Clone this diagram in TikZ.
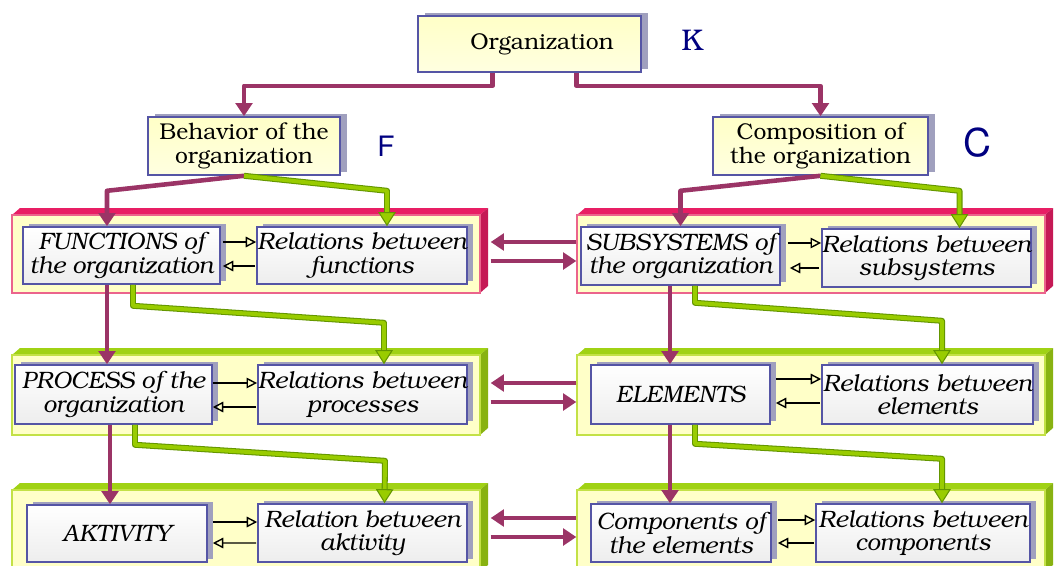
\documentclass[tikz,border=0pt]{standalone}
\usepackage[T1]{fontenc}
\usepackage{bookman}
\usetikzlibrary{arrows.meta,calc,fit,shadows}

\definecolor{plum}{RGB}{155,52,102}
\definecolor{leaf}{RGB}{153,204,0}
\definecolor{leafdark}{RGB}{100,150,0}
\definecolor{boxblue}{RGB}{85,85,165}
\definecolor{bevel}{RGB}{160,160,190}
\definecolor{cream}{RGB}{255,255,200}
\definecolor{navyk}{RGB}{0,0,128}
\definecolor{rimred}{RGB}{232,30,100}
\definecolor{edgered}{RGB}{235,100,140}
\definecolor{rimgreen}{RGB}{160,210,20}
\definecolor{edgegreen}{RGB}{195,225,70}

% name, left, top, right, bottom, rim, edge
\newcommand{\slab}[7]
{   \fill[#6] (#2,#3) -- ++(8,-7) -- (#4+8,#3-7) -- (#4,#3) -- cycle;
    \fill[#6!85!black] (#4,#3) -- (#4+8,#3-7) -- (#4+8,#5-7) -- (#4,#5) -- cycle;
    \node[slabface, draw=#7, fit={(#2,#3) (#4,#5)}] (#1) {};
}

\begin{document}
\begin{tikzpicture}[x=0.02cm,y=-0.02cm,
  slabface/.style={fill=cream, line width=0.8pt, inner sep=0pt},
  topbox/.style={draw=boxblue, line width=0.9pt, top color=yellow!22, bottom color=yellow!12!white,
    general shadow={fill=bevel, shadow xshift=4pt, shadow yshift=1.5pt},
    align=center, inner sep=0pt, font=\fontsize{13}{13.5}\selectfont},
  cell/.style={draw=boxblue, line width=0.9pt, top color=white, bottom color=gray!14,
    general shadow={fill=bevel, shadow xshift=3.5pt, shadow yshift=1.5pt},
    align=center, inner sep=0pt, minimum height=1.14cm, font=\fontsize{13.5}{13.5}\selectfont\itshape},
  plumarr/.style={draw=plum, line width=2.6pt, line join=round, -{Triangle[width=9.5pt,length=7.5pt]}},
  leafarr/.style={draw=leafdark, double=leaf, double distance=2.2pt, line width=0.6pt, line join=round,
    -{Triangle[width=10pt,length=8pt,fill=leaf]}},
  tinyarr/.style={draw=black, line width=0.8pt, -{Triangle[open, width=6pt, length=6pt]}},
  tag/.style={text=navyk, inner sep=0pt}]

\useasboundingbox (0,0) rectangle (1054,565);
\clip (0,0) rectangle (1054,565);

 \slab{p1L}{12}{215}{480}{293}{rimred}{edgered}
 \slab{p1R}{577}{215}{1045}{293}{rimred}{edgered}
 \slab{p2L}{12}{355}{480}{435}{rimgreen}{edgegreen}
 \slab{p2R}{577}{355}{1045}{435}{rimgreen}{edgegreen}
 \slab{p3L}{12}{490}{480}{572}{rimgreen}{edgegreen}
 \slab{p3R}{577}{490}{1045}{572}{rimgreen}{edgegreen}

 \node[topbox, minimum width=4.46cm, minimum height=1.12cm] (org) at (529.5,44) {\hspace*{0.5cm}Organization};
 \node[topbox, minimum width=3.84cm, minimum height=1.16cm] (beh) at (244,146) {Behavior of the\\organization};
 \node[topbox, minimum width=4.3cm, minimum height=1.16cm] (comp) at (820.5,146) {Composition of\\the organization};

 \node[tag, font=\fontsize{17}{18}\selectfont] (lk) at (692,40) {K};
 \node[tag, font=\fontsize{16}{18}\fontfamily{phv}\selectfont] (lf) at (386,146) {F};
 \node[tag, font=\fontsize{22}{24}\fontfamily{phv}\selectfont] (lc) at (977,143) {C};

 \node[cell, minimum width=3.94cm] (fun) at (121.5,255.5) {FUNCTIONS of\\the organization};
 \node[cell, minimum width=4.2cm] (relfun) at (362,255.5) {Relations between\\functions};
 \node[cell, minimum width=3.98cm, minimum height=1.16cm] (sub) at (680.5,256) {SUBSYSTEMS of\\the organization};
 \node[cell, minimum width=4.14cm, minimum height=1.16cm] (relsub) at (926.5,258) {Relations between\\subsystems};

 \node[cell, minimum width=3.94cm, minimum height=1.18cm] (proc) at (113.5,394.5) {PROCESS of the\\organization};
 \node[cell, minimum width=4.18cm, minimum height=1.18cm] (relproc) at (362.5,394.5) {Relations between\\processes};
 \node[cell, minimum width=3.58cm, minimum height=1.18cm] (elem) at (680.5,394.5) {ELEMENTS};
 \node[cell, minimum width=4.22cm, minimum height=1.18cm] (relelem) at (927.5,394.5) {Relations between\\elements};

 \node[cell, minimum width=3.6cm] (akt) at (117,533.5) {AKTIVITY};
 \node[cell, minimum width=4.18cm, minimum height=1.16cm] (relakt) at (362.5,533) {Relation between\\aktivity};
 \node[cell, minimum width=3.6cm, minimum height=1.16cm] (compel) at (681,533) {Components of\\the elements};
 \node[cell, minimum width=4.28cm, minimum height=1.16cm] (relcomp) at (923,533) {Relations between\\components};

 \draw[plumarr] ($(org.south)+(-37,0)$) -- ++(0,13) -| (beh.north);
 \draw[plumarr] ($(org.south)+(47,0)$) -- ++(0,13) -| (comp.north);

 \draw[plumarr] (beh.south) -- ++(-137,15) -- ($(fun.north)+(-14.5,0)$);
 \draw[leafarr] (beh.south) -- ++(143,15) -- ($(relfun.north)+(25,0)$);
 \draw[plumarr] (comp.south) -- ++(-140,15) -- (sub.north);
 \draw[leafarr] (comp.south) -- ++(139,15) -- ($(relsub.north)+(33,0)$);

 \draw[plumarr] ($(fun.south)+(-14.5,0)$) -- ($(proc.north)+(-6.5,0)$);
 \draw[leafarr] ($(fun.south)+(11.5,0)$) -- ++(0,21) -- ++(251,17) -- ($(relproc.north)+(21.5,0)$);
 \draw[plumarr] ($(proc.south)+(-3.5,0)$) -- ($(akt.north)+(-7,0)$);
 \draw[leafarr] ($(proc.south)+(21.5,0)$) -- ++(0,20) -- ++(250,16) -- ($(relakt.north)+(22,0)$);

 \draw[plumarr] ($(sub.south)+(-10.5,0)$) -- ($(elem.north)+(-10.5,0)$);
 \draw[leafarr] ($(sub.south)+(14.5,0)$) -- ++(0,17) -- ++(247,18) -- ($(relelem.north)+(14.5,0)$);
 \draw[plumarr] ($(elem.south)+(-10.5,0)$) -- ($(compel.north)+(-11,0)$);
 \draw[leafarr] ($(elem.south)+(14.5,0)$) -- ++(0,19) -- ++(247,15) -- ($(relcomp.north)+(19,0)$);

 \draw[plumarr] ($(p1R.west)+(0,-12)$) -- ($(p1L.east)+(10,-12)$);
 \draw[plumarr] ($(p1L.east)+(10,7)$) -- ($(p1R.west)+(0,7)$);
 \draw[plumarr] ($(p2R.west)+(0,-12)$) -- ($(p2L.east)+(10,-12)$);
 \draw[plumarr] ($(p2L.east)+(10,7)$) -- ($(p2R.west)+(0,7)$);
 \draw[plumarr] ($(p3R.west)+(0,-13)$) -- ($(p3L.east)+(10,-13)$);
 \draw[plumarr] ($(p3L.east)+(10,6)$) -- ($(p3R.west)+(0,6)$);

 \draw[tinyarr] ($(fun.east)+(2,-13.5)$) -- ($(relfun.west)+(0,-13.5)$);
 \draw[tinyarr] ($(relfun.west)+(-1,10.5)$) -- ($(fun.east)+(2,10.5)$);
 \draw[tinyarr] ($(sub.east)+(7,-13)$) -- ($(relsub.west)+(0,-15)$);
 \draw[tinyarr] ($(relsub.west)+(-2,10)$) -- ($(sub.east)+(9,12)$);
 \draw[tinyarr] ($(proc.east)+(0,-11.5)$) -- ($(relproc.west)+(0,-11.5)$);
 \draw[tinyarr] ($(relproc.west)+(-1,12.5)$) -- ($(proc.east)+(0,12.5)$);
 \draw[tinyarr] ($(elem.east)+(5,-15.5)$) -- ($(relelem.west)+(0,-15.5)$);
 \draw[tinyarr] ($(relelem.west)+(-1,8.5)$) -- ($(elem.east)+(5,8.5)$);
 \draw[tinyarr] ($(akt.east)+(5,-11.5)$) -- ($(relakt.west)+(0,-11)$);
 \draw[tinyarr] ($(relakt.west)+(-1,10)$) -- ($(akt.east)+(5,9.5)$);
 \draw[tinyarr] ($(compel.east)+(6,-13)$) -- ($(relcomp.west)+(0,-13)$);
 \draw[tinyarr] ($(relcomp.west)+(-1,10)$) -- ($(compel.east)+(6,10)$);

\end{tikzpicture}
\end{document}
